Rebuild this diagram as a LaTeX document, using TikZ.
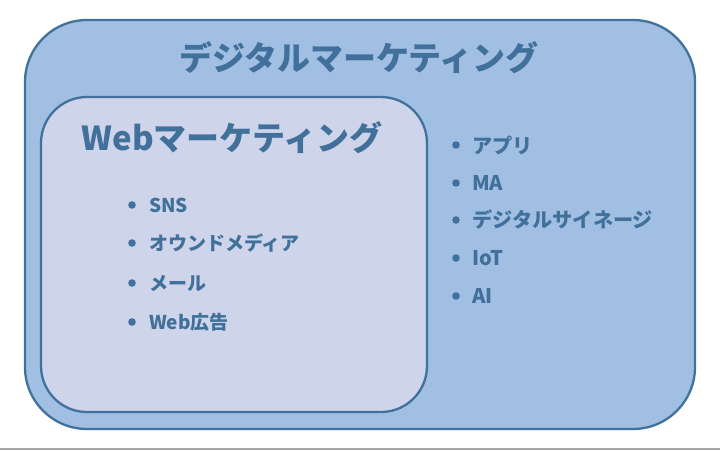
\documentclass[tikz,border=0pt]{standalone}
\usepackage{fontspec}
\setmainfont{Noto Sans CJK JP}
\definecolor{outerfill}{HTML}{A0BFE3}
\definecolor{innerfill}{HTML}{CED4EA}
\definecolor{edge}{HTML}{41719C}
\definecolor{txt}{HTML}{41709A}
\tikzset{
  box/.style={draw=edge, line width=2.3pt, inner sep=0pt},
  title/.style={text=txt, font=\fontsize{33}{36}\selectfont\bfseries, inner sep=0pt},
  item/.style={text=txt, anchor=west, inner sep=0pt, font=\fontsize{19}{22}\selectfont\bfseries},
  ritem/.style={item, font=\fontsize{20.2}{23}\selectfont\bfseries},
  dot/.style={circle, fill=edge, minimum size=7.6pt, inner sep=0pt},
}
\begin{document}
\begin{tikzpicture}[x=1pt,y=-1pt]
\useasboundingbox (0,0) rectangle (720,450);
\draw[line width=1.5pt, draw=black!35] (0,449.2) -- (720,449.2);
\node[box, fill=outerfill, rounded corners=62pt, minimum width=670pt, minimum height=409pt] (outer) at (360,224.5) {};
\node[box, fill=innerfill, rounded corners=46pt, minimum width=386pt, minimum height=315pt] (inner) at (234,254.5) {};
\node[title] (t1) at (359,58) {デジタルマーケティング};
\node[title] (t2) at (232,138) {Webマーケティング};
% left list
\node[dot] (d1) at (132,205) {}; \node[item] (l1) at (149,205) {SNS};
\node[dot] (d2) at (132,243) {}; \node[item] (l2) at (149,243) {オウンドメディア};
\node[dot] (d3) at (132,283) {}; \node[item] (l3) at (149,283) {メール};
\node[dot] (d4) at (132,322) {}; \node[item] (l4) at (149,322) {Web広告};
% right list
\node[dot] (e1) at (456,145) {}; \node[ritem] (r1) at (472,145) {アプリ};
\node[dot] (e2) at (456,183) {}; \node[ritem] (r2) at (472,183) {MA};
\node[dot] (e3) at (456,220) {}; \node[ritem] (r3) at (472,220) {デジタルサイネージ};
\node[dot] (e4) at (456,258) {}; \node[ritem] (r4) at (472,258) {IoT};
\node[dot] (e5) at (456,296) {}; \node[ritem] (r5) at (472,296) {AI};
\end{tikzpicture}
\end{document}
